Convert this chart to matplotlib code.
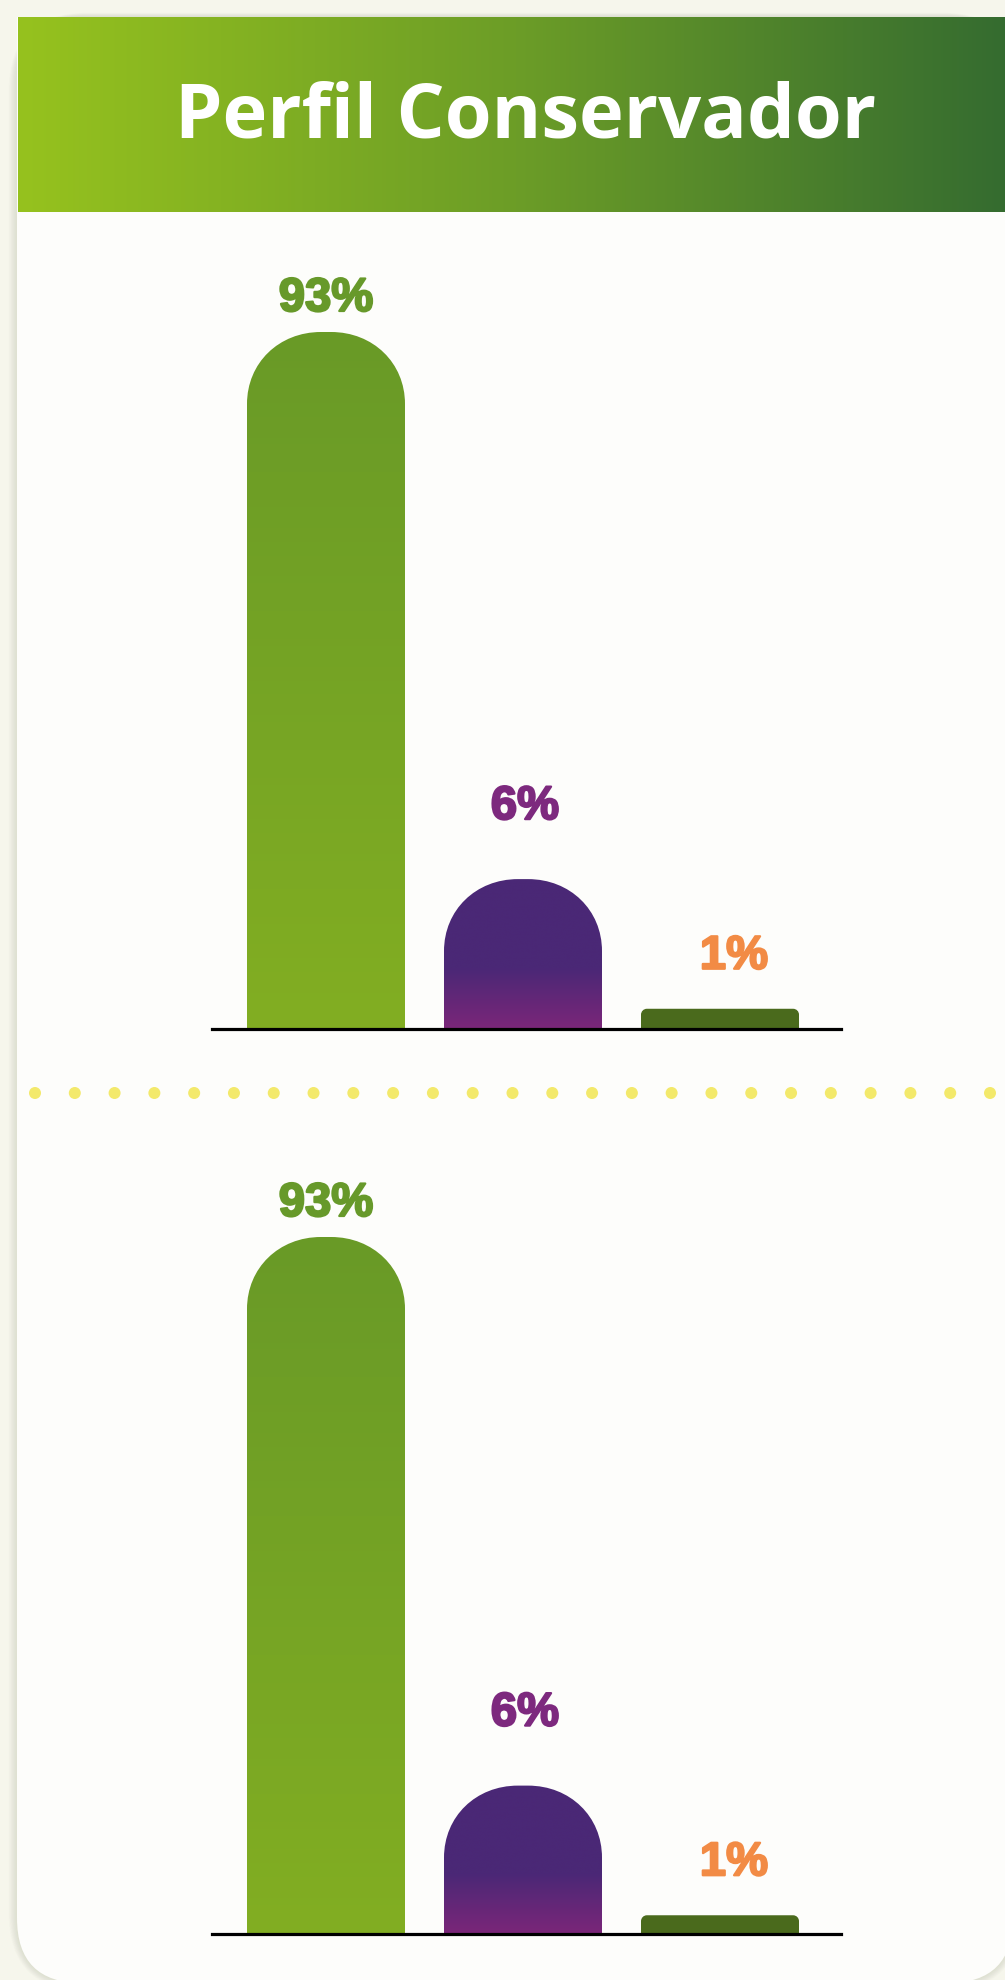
import numpy as np
import matplotlib
matplotlib.use("Agg")
import matplotlib.pyplot as plt
import matplotlib.patheffects as pe
from matplotlib.patches import FancyBboxPatch, Rectangle, PathPatch, Circle
from matplotlib.path import Path
from matplotlib.colors import LinearSegmentedColormap

# ---------------- data ----------------
title = "Perfil Conservador"
top_values = [93, 6, 1]
bottom_values = [93, 6, 1]
top_labels = [f"{v}%" for v in top_values]
bottom_labels = [f"{v}%" for v in bottom_values]
# the infographic draws its bars at designer (not-to-scale) heights
top_display_heights = [93, 20, 2.7]
bottom_display_heights = [93, 19.8, 2.5]
label_colors = ["#67992a", "#7d297e", "#f28b45"]

# ---------------- figure ----------------
W, H = 1005, 1980
fig = plt.figure(figsize=(W / 100, H / 100), dpi=100)
fig.patch.set_facecolor("#f6f6ec")

bg = fig.add_axes([0, 0, 1, 1], zorder=0)
bg.set_xlim(0, W)
bg.set_ylim(H, 0)
bg.axis("off")

# card shadow
for i in range(14, 0, -1):
    bg.add_patch(FancyBboxPatch((17 - i * 0.6, 17 - i * 0.3), 996 + i * 1.2, 1966 + i * 0.9,
                                boxstyle="round,pad=0,rounding_size=%d" % (65 + i),
                                facecolor="#c9cdb9", edgecolor="none", alpha=0.035, zorder=1))
card_col = "#fdfdfb"
bg.add_patch(FancyBboxPatch((17, 17), 996, 1966, boxstyle="round,pad=0,rounding_size=65",
                            facecolor=card_col, edgecolor="none", zorder=2))
bg.add_patch(Rectangle((17, 17), 996, 600, facecolor=card_col, edgecolor="none", zorder=2))

# header gradient
hcm = LinearSegmentedColormap.from_list("hdr", ["#96c21e", "#6c9d27", "#346b30"])
hgrad = hcm(np.linspace(0, 1, 512))[None, :, :3]
bg.imshow(hgrad, extent=[18, 1013, 212, 17], aspect="auto", zorder=3, interpolation="bicubic")
bg.set_xlim(0, W)
bg.set_ylim(H, 0)
bg.text(526, 137, title, ha="center", va="baseline", color="white",
        fontsize=54.5, fontweight="bold", family=["Open Sans", "DejaVu Sans"], zorder=4)

# dotted separator
for xd in np.linspace(35, 990, 25):
    bg.add_patch(Circle((xd, 1093), 6, facecolor="#f3e96b", edgecolor="none", zorder=4))

# ---------------- bar charts ----------------
PX_PER_UNIT_X = 197.0
PX_PER_UNIT_Y = 697.0 / 93.0
AX_LEFT, AX_RIGHT, AX_H = 212, 841, 770
K = 0.57


def top_path(x0, x1, h, rx, ry):
    verts = [(x0, 0), (x0, h - ry),
             (x0, h - ry + K * ry), (x0 + rx - K * rx, h), (x0 + rx, h),
             (x1 - rx, h),
             (x1 - rx + K * rx, h), (x1, h - ry + K * ry), (x1, h - ry),
             (x1, 0), (x0, 0)]
    codes = [Path.MOVETO, Path.LINETO,
             Path.CURVE4, Path.CURVE4, Path.CURVE4,
             Path.LINETO,
             Path.CURVE4, Path.CURVE4, Path.CURVE4,
             Path.LINETO, Path.CLOSEPOLY]
    return Path(verts, codes)


bar_cmaps = [
    LinearSegmentedColormap.from_list("g", [(0, "#82ae22"), (1, "#699a27")]),
    LinearSegmentedColormap.from_list("p", [(0, "#7b2679"), (0.4, "#4b2876"), (1, "#4a2876")]),
    None,
]
solid_third = "#4a6a1c"
label_offsets_px = [(0, 21), (2, 60), (14, 40)]
round_px = [(74, 72), (74, 72), (6, 6)]


def draw_chart(baseline_px, values, heights, labels):
    ax = fig.add_axes([AX_LEFT / W, (H - baseline_px) / H, (AX_RIGHT - AX_LEFT) / W, AX_H / H], zorder=5)
    ax.patch.set_alpha(0)
    x = np.arange(len(values))
    bars = ax.bar(x, heights, width=158 / PX_PER_UNIT_X)
    for i, rect in enumerate(bars):
        rect.set_visible(False)
        x0 = rect.get_x()
        x1 = x0 + rect.get_width()
        h = rect.get_height()
        rx = round_px[i][0] / PX_PER_UNIT_X
        ry = min(round_px[i][1] / PX_PER_UNIT_Y, h * 0.9)
        path = top_path(x0, x1, h, rx, ry)
        if bar_cmaps[i] is None:
            ax.add_patch(PathPatch(path, facecolor=solid_third, edgecolor="none", zorder=2))
        else:
            grad = bar_cmaps[i](np.linspace(0, 1, 256))[:, None, :3]
            im = ax.imshow(grad, extent=[x0, x1, 0, h], origin="lower", aspect="auto",
                           interpolation="bicubic", zorder=2)
            clip = PathPatch(path, facecolor="none", edgecolor="none", transform=ax.transData)
            ax.add_patch(clip)
            im.set_clip_path(clip)
        dx, dy = label_offsets_px[i]
        ax.annotate(labels[i], xy=(x[i], h), xytext=(dx * 0.72, dy * 0.72), textcoords="offset points",
                    ha="center", va="baseline", fontsize=34, fontweight="bold",
                    family=["Liberation Sans", "DejaVu Sans"], color=label_colors[i], zorder=4,
                    path_effects=[pe.withStroke(linewidth=1.6, foreground=label_colors[i])])
    ax.set_xlim(-(326 - AX_LEFT) / PX_PER_UNIT_X, (AX_RIGHT - 326) / PX_PER_UNIT_X)
    ax.set_ylim(0, AX_H / PX_PER_UNIT_Y)
    ax.axhline(0, color="black", lw=2.3, clip_on=False, zorder=6)
    ax.axis("off")
    return ax


draw_chart(1029, top_values, top_display_heights, top_labels)
draw_chart(1934, bottom_values, bottom_display_heights, bottom_labels)

fig.savefig("out.png", dpi=100, facecolor=fig.get_facecolor())
